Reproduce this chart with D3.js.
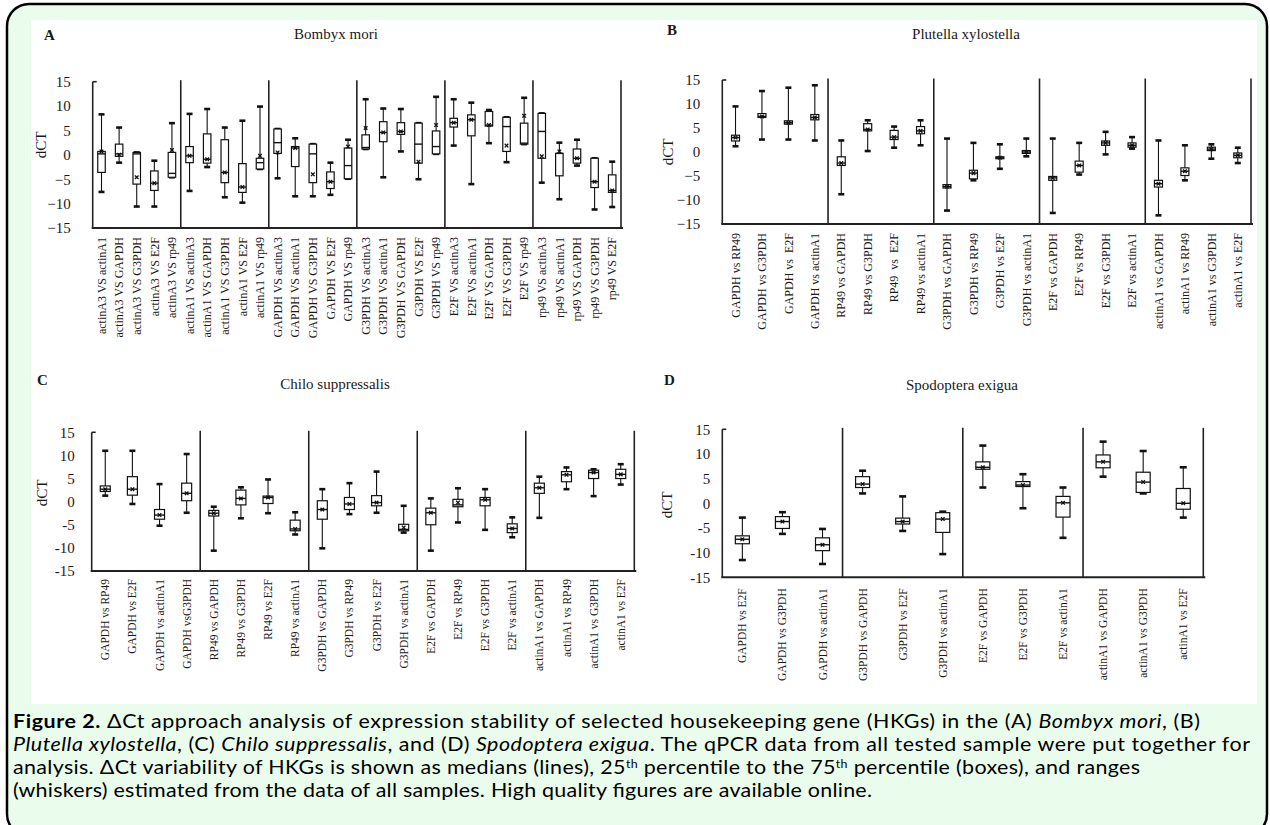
<!DOCTYPE html>
<html>
<head>
<meta charset="utf-8">
<script src="https://cdnjs.cloudflare.com/ajax/libs/d3/7.8.5/d3.min.js"></script>
<style>
  body { margin: 0; background: #fff; }
  svg { display: block; }
</style>
</head>
<body>
<svg width="1270" height="825"></svg>
<script>
// ---- data: each row is [min, q1, median, q3, max, mean] ----
const yTicks = [-15, -10, -5, 0, 5, 10, 15];

const labelsA = [
  "actinA3 VS actinA1", "actinA3 VS GAPDH", "actinA3 VS G3PDH", "actinA3 VS E2F", "actinA3 VS rp49",
  "actinA1 VS actinA3", "actinA1 VS GAPDH", "actinA1 VS G3PDH", "actinA1 VS E2F", "actinA1 VS rp49",
  "GAPDH VS actinA3", "GAPDH VS actinA1", "GAPDH VS G3PDH", "GAPDH VS E2F", "GAPDH VS rp49",
  "G3PDH VS actinA3", "G3PDH VS actinA1", "G3PDH VS GAPDH", "G3PDH VS E2F", "G3PDH VS rp49",
  "E2F VS actinA3", "E2F VS actinA1", "E2F VS GAPDH", "E2F VS G3PDH", "E2F VS rp49",
  "rp49 VS actinA3", "rp49 VS actinA1", "rp49 VS GAPDH", "rp49 VS G3PDH", "rp49 VS E2F"
];
const statsA = [
  [-7.6, -3.6, 0.2, 0.7, 8.3, 0.7], [-1.6, -0.3, 0.2, 2.2, 5.6, 0.0], [-10.6, -6.0, 0.2, 0.5, 0.5, -4.6],
  [-10.6, -7.3, -5.8, -3.3, -1.2, -5.8], [-4.6, -4.6, -3.8, 0.5, 6.5, 1.0],
  [-7.4, -1.6, -0.2, 1.7, 8.4, -0.2], [-2.5, -1.7, -0.9, 4.3, 9.4, -0.9], [-8.7, -5.7, -3.6, 3.1, 5.6, -3.6],
  [-9.8, -7.7, -6.6, -1.8, 7.0, -6.6], [-2.9, -2.9, -1.6, -0.7, 9.9, -0.2],
  [-4.8, 0.3, 2.5, 5.3, 5.3, 0.5], [-8.5, -2.4, 1.4, 1.7, 3.4, 1.4], [-8.5, -5.7, 0.2, 2.2, 2.2, -4.0],
  [-8.2, -6.9, -5.5, -3.5, -1.6, -5.5], [-4.9, -4.9, -2.2, 1.4, 3.1, 1.7],
  [1.2, 1.2, 1.5, 4.1, 11.4, 5.5], [-4.6, 2.7, 4.6, 6.8, 9.5, 4.6], [0.7, 4.2, 4.8, 6.6, 9.4, 4.8],
  [-5.0, -1.7, 2.2, 6.5, 6.5, -1.4], [0.2, 0.2, 1.7, 4.9, 11.9, 6.1],
  [1.9, 5.7, 6.6, 7.5, 11.4, 6.6], [-6.0, 3.9, 7.2, 8.2, 10.7, 7.2], [2.4, 5.9, 6.1, 8.9, 9.2, 6.1],
  [-1.5, 0.7, 5.8, 7.7, 7.7, 1.9], [2.2, 2.2, 2.4, 6.5, 11.7, 8.0],
  [-5.7, -0.7, 4.8, 8.5, 8.5, -0.3], [-9.1, -4.3, 0.3, 0.3, 2.5, 0.7], [-2.2, -1.7, -0.7, 1.2, 3.1, -0.7],
  [-11.2, -6.7, -5.5, -0.7, -0.7, -5.5], [-10.7, -7.7, -7.3, -4.1, -1.4, -7.3]
];

const labelsB = [
  "GAPDH vs RP49", "GAPDH vs G3PDH", "GAPDH vs  E2F", "GAPDH vs actinA1",
  "RP49 vs GAPDH", "RP49 vs G3PDH", "RP49  vs  E2F", "RP49 vs actinA1",
  "G3PDH vs GAPDH", "G3PDH vs RP49", "G3PDH vs E2F", "G3PDH vs actinA1",
  "E2F vs GAPDH", "E2F vs RP49", "E2F vs G3PDH", "E2F vs actinA1",
  "actinA1 vs GAPDH", "actinA1 vs RP49", "actinA1 vs G3PDH", "actinA1 vs E2F"
];
const statsB = [
  [1.2, 2.3, 3.0, 3.5, 9.5, 3.0], [2.6, 7.2, 7.4, 8.0, 12.7, 7.4], [2.6, 5.8, 6.1, 6.5, 13.4, 6.1], [2.4, 6.7, 7.2, 7.8, 13.9, 7.2],
  [-8.8, -2.8, -2.3, -1.0, 2.4, -2.3], [0.2, 4.4, 4.7, 5.9, 6.6, 4.7], [0.9, 2.6, 3.1, 4.5, 5.3, 3.1], [1.4, 3.8, 4.4, 5.3, 6.6, 4.4],
  [-12.2, -7.5, -7.2, -6.8, 2.8, -7.2], [-5.9, -5.6, -4.4, -3.8, 1.9, -4.4], [-3.5, -1.4, -1.2, -1.0, 1.6, -1.2], [-0.9, -0.3, 0.0, 0.3, 2.8, 0.0],
  [-12.7, -5.9, -5.4, -5.1, 2.8, -5.4], [-4.7, -4.2, -2.8, -1.9, 1.9, -2.8], [-0.5, 1.4, 1.9, 2.3, 4.2, 1.9], [0.7, 1.0, 1.4, 1.9, 3.1, 1.4],
  [-13.2, -7.3, -6.6, -5.9, 2.4, -6.6], [-5.9, -4.9, -4.0, -3.3, 1.4, -4.0], [-1.4, 0.3, 0.6, 1.0, 1.6, 0.6], [-2.3, -1.2, -0.7, -0.2, 0.9, -0.7]
];

const labelsC = [
  "GAPDH vs RP49", "GAPDH vs E2F", "GAPDH vs actinA1", "GAPDH vsG3PDH",
  "RP49 vs GAPDH", "RP49 vs G3PDH", "RP49 vs E2F", "RP49 vs actinA1",
  "G3PDH vs GAPDH", "G3PDH vs RP49", "G3PDH vs E2F", "G3PDH vs actinA1",
  "E2F vs GAPDH", "E2F vs RP49", "E2F vs G3PDH", "E2F vs actinA1",
  "actinA1 vs GAPDH", "actinA1 vs RP49", "actinA1 vs G3PDH", "actinA1 vs E2F"
];
const statsC = [
  [1.3, 2.2, 2.7, 3.4, 11.0, 2.7], [-0.5, 1.4, 2.7, 5.4, 11.0, 2.7], [-5.2, -3.8, -2.9, -1.7, 3.8, -2.9], [-2.4, 0.2, 1.8, 4.0, 10.3, 1.8],
  [-10.6, -3.1, -2.5, -1.9, -1.1, -2.5], [-3.6, -0.7, 0.7, 2.5, 3.1, 0.7], [-2.5, -0.4, 0.9, 1.2, 4.8, 0.9], [-7.1, -6.3, -5.9, -4.0, -2.3, -5.9],
  [-10.1, -3.8, -1.7, 0.2, 2.7, -1.7], [-2.7, -1.7, -0.5, 0.9, 4.0, -0.5], [-2.4, -0.9, -0.2, 1.3, 6.5, -0.2], [-6.7, -6.3, -6.0, -4.9, -0.9, -5.6],
  [-10.6, -5.0, -2.4, -1.4, 0.7, -2.4], [-4.5, -1.1, -0.7, 0.5, 2.9, -0.2], [-6.1, -0.9, 0.4, 0.9, 2.7, 0.4], [-7.7, -6.7, -5.8, -4.8, -3.4, -5.8],
  [-3.5, 1.8, 3.0, 4.0, 5.4, 3.0], [2.7, 4.3, 5.8, 6.5, 7.4, 5.8], [1.2, 5.0, 6.3, 6.8, 7.0, 6.3], [3.7, 5.0, 5.9, 7.0, 8.1, 5.9]
];

const labelsD = [
  "GAPDH vs E2F", "GAPDH vs G3PDH", "GAPDH vs actinA1",
  "G3PDH vs GAPDH", "G3PDH vs E2F", "G3PDH vs actinA1",
  "E2F vs GAPDH", "E2F vs G3PDH", "E2F vs actinA1",
  "actinA1 vs GAPDH", "actinA1 vs G3PDH", "actinA1 vs E2F"
];
const statsD = [
  [-11.5, -8.2, -7.3, -6.6, -2.9, -7.3], [-6.2, -5.1, -3.7, -2.7, -1.8, -3.7], [-12.3, -9.6, -8.4, -7.0, -5.2, -8.4],
  [2.0, 3.2, 3.9, 5.4, 6.6, 3.9], [-5.6, -4.2, -3.7, -3.0, 1.4, -3.7], [-10.3, -5.9, -3.2, -1.9, -1.7, -3.2],
  [3.2, 6.9, 7.3, 8.4, 11.7, 7.3], [-1.0, 3.4, 3.7, 4.4, 5.9, 3.7], [-7.0, -2.8, 0.1, 1.4, 3.2, 0.1],
  [5.4, 7.2, 8.4, 9.8, 12.5, 8.4], [2.0, 2.2, 4.3, 6.3, 10.6, 4.3], [-2.9, -1.2, 0.0, 3.0, 7.3, 0.0]
];

const serif = "'Liberation Serif', 'Times New Roman', serif";
const ink = "#1a1a1a";

const svg = d3.select("svg");

// page frame: pale green card with rounded black border, white figure area
svg.append("rect")
  .attr("x", 7).attr("y", 4).attr("width", 1260).attr("height", 832)
  .attr("rx", 22)
  .attr("fill", "#eafcec")
  .attr("stroke", "#000")
  .attr("stroke-width", 2.5);

svg.append("rect")
  .attr("x", 31).attr("y", 20).attr("width", 1226).attr("height", 684)
  .attr("fill", "#fff");

// panel layout
const panels = [
  { letter: "A", title: "Bombyx mori", labels: labelsA, stats: statsA, group: 5,
    x0: 92.7, x1: 621, yTop: 81.7, yBot: 228, tickPad: 22, minus: true,
    letterX: 44, letterY: 40, titleX: 336, titleY: 39, dctX: 41, dctY: 145,
    labelSize: 12, labelGap: 9, boxW: 7.5, capW: 3 },
  { letter: "B", title: "Plutella xylostella", labels: labelsB, stats: statsB, group: 4,
    x0: 722.3, x1: 1251, yTop: 80, yBot: 224, tickPad: 22, minus: true,
    letterX: 667, letterY: 35, titleX: 966, titleY: 39, dctX: 668, dctY: 152,
    labelSize: 12, labelGap: 9, boxW: 8, capW: 3 },
  { letter: "C", title: "Chilo suppressalis", labels: labelsC, stats: statsC, group: 4,
    x0: 91.7, x1: 634.3, yTop: 432.3, yBot: 571, tickPad: 17, minus: false,
    letterX: 37, letterY: 385, titleX: 335, titleY: 389, dctX: 42, dctY: 493,
    labelSize: 11.5, labelGap: 8, boxW: 10, capW: 3 },
  { letter: "D", title: "Spodoptera exigua", labels: labelsD, stats: statsD, group: 3,
    x0: 722.3, x1: 1203.3, yTop: 429.3, yBot: 577.3, tickPad: 12, minus: false,
    letterX: 664, letterY: 385, titleX: 962, titleY: 390, dctX: 667, dctY: 505,
    labelSize: 11.5, labelGap: 11, boxW: 14, capW: 3.5 }
];

panels.forEach(drawPanel);

function drawPanel(p) {
  const g = svg.append("g");
  const n = p.labels.length;
  const x = d3.scaleBand().domain(d3.range(n)).range([p.x0, p.x1]);
  const y = d3.scaleLinear().domain([-15, 15]).range([p.yBot, p.yTop]);
  const cx = i => x(i) + x.bandwidth() / 2;

  // letter + title
  g.append("text").attr("x", p.letterX).attr("y", p.letterY)
    .attr("font-family", serif).attr("font-size", 15).attr("font-weight", "bold")
    .attr("fill", ink).text(p.letter);
  g.append("text").attr("x", p.titleX).attr("y", p.titleY)
    .attr("text-anchor", "middle")
    .attr("font-family", serif).attr("font-size", 15)
    .attr("fill", ink).text(p.title);

  // y axis label
  g.append("text")
    .attr("transform", `translate(${p.dctX},${p.dctY}) rotate(-90)`)
    .attr("text-anchor", "middle").attr("dy", "0.35em")
    .attr("font-family", serif).attr("font-size", 15)
    .attr("fill", ink).text("dCT");

  // y tick labels
  g.append("g")
    .attr("transform", `translate(${p.x0},0)`)
    .call(d3.axisLeft(y).tickValues(yTicks).tickSize(0).tickPadding(p.tickPad)
      .tickFormat(p.minus ? d3.format("d") : d => String(d)))
    .call(a => a.select(".domain").remove())
    .attr("font-family", serif).attr("font-size", 15)
    .selectAll("text").attr("fill", ink);

  // category labels, rotated
  g.append("g")
    .attr("transform", `translate(0,${p.yBot})`)
    .call(d3.axisBottom(x).tickSize(0).tickFormat(i => p.labels[i]))
    .call(a => a.select(".domain").remove())
    .attr("font-family", serif).attr("font-size", p.labelSize)
    .selectAll("text")
    .attr("fill", ink)
    .attr("transform", "rotate(-90)")
    .attr("x", -p.labelGap).attr("y", 0).attr("dy", "0.35em")
    .style("text-anchor", "end")
    .style("white-space", "pre");

  // frame: left axis, bottom axis, group separators, right edge
  const line = (x1, y1, x2, y2, w) => g.append("line")
    .attr("x1", x1).attr("y1", y1).attr("x2", x2).attr("y2", y2)
    .attr("stroke", "#222").attr("stroke-width", w);

  line(p.x0, y(15), p.x0, p.yBot, 1.6);
  line(p.x0, y(15), p.x0 + 4, y(15), 1.6);
  line(p.x0 - 1, p.yBot, p.x1 + 2, p.yBot, 2);
  for (let k = p.group; k <= n; k += p.group) {
    const sx = k === n ? p.x1 : x(k);
    line(sx, p.yBot, sx, y(15) - 1.5, 1.6);
  }

  // box plots
  const items = g.selectAll(".item").data(p.stats).join("g").attr("class", "item");

  items.append("line")
    .attr("x1", (d, i) => cx(i)).attr("x2", (d, i) => cx(i))
    .attr("y1", d => y(d[0])).attr("y2", d => y(d[4]))
    .attr("stroke", "#111").attr("stroke-width", 1.1);

  [0, 4].forEach(k => {
    items.append("line")
      .attr("x1", (d, i) => cx(i) - p.capW).attr("x2", (d, i) => cx(i) + p.capW)
      .attr("y1", d => y(d[k])).attr("y2", d => y(d[k]))
      .attr("stroke", "#111").attr("stroke-width", 2.6);
  });

  items.append("rect")
    .attr("x", (d, i) => cx(i) - p.boxW / 2)
    .attr("y", d => y(d[3]))
    .attr("width", p.boxW)
    .attr("height", d => Math.max(1, y(d[1]) - y(d[3])))
    .attr("fill", "#fff").attr("stroke", "#111").attr("stroke-width", 1.2);

  items.append("line")
    .attr("x1", (d, i) => cx(i) - p.boxW / 2).attr("x2", (d, i) => cx(i) + p.boxW / 2)
    .attr("y1", d => y(d[2])).attr("y2", d => y(d[2]))
    .attr("stroke", "#111").attr("stroke-width", 1.4);

  items.append("path")
    .attr("d", (d, i) => {
      const px = cx(i), py = y(d[5]), s = 1.8;
      return `M${px - s},${py - s}L${px + s},${py + s}M${px - s},${py + s}L${px + s},${py - s}`;
    })
    .attr("stroke", "#111").attr("stroke-width", 1.3).attr("fill", "none");
}

// caption (Gill Sans in the original; Lato stretched a little to its width)
const capFont = "Lato, 'Open Sans', sans-serif";
const caption = [
  [["Figure 2.", "b"], [" \u0394Ct approach analysis of expression stability of selected housekeeping gene (HKGs) in the (A) ", ""], ["Bombyx mori", "i"], [", (B)", ""]],
  [["Plutella xylostella", "i"], [", (C) ", ""], ["Chilo suppressalis", "i"], [", and (D) ", ""], ["Spodoptera exigua", "i"], [". The qPCR data from all tested sample were put together for", ""]],
  [["analysis. \u0394Ct variability of HKGs is shown as medians (lines), 25", ""], ["th", "s"], [" percentile to the 75", ""], ["th", "s"], [" percentile (boxes), and ranges", ""]],
  [["(whiskers) estimated from the data of all samples. High quality figures are available online.", ""]]
];
const capY = [728, 751, 774, 797];
const capEnd = [1200, 1250, 1140, 872];
const capX = 13, capStretch = 1.13;

caption.forEach((parts, li) => {
  const t = svg.append("text")
    .attr("transform", `translate(${capX},${capY[li]}) scale(${capStretch},1)`)
    .attr("font-family", capFont).attr("font-size", 19)
    .attr("fill", "#000")
    .attr("textLength", (capEnd[li] - capX) / capStretch)
    .attr("lengthAdjust", "spacing");
  let raised = false;
  parts.forEach(([txt, st]) => {
    const ts = t.append("tspan").text(txt).style("white-space", "pre");
    if (st === "b") ts.attr("font-weight", "bold");
    if (st === "i") ts.attr("font-style", "italic");
    if (st === "s") { ts.attr("font-size", 11).attr("dy", -6); raised = true; }
    else if (raised) { ts.attr("dy", 6); raised = false; }
  });
});
</script>
</body>
</html>
